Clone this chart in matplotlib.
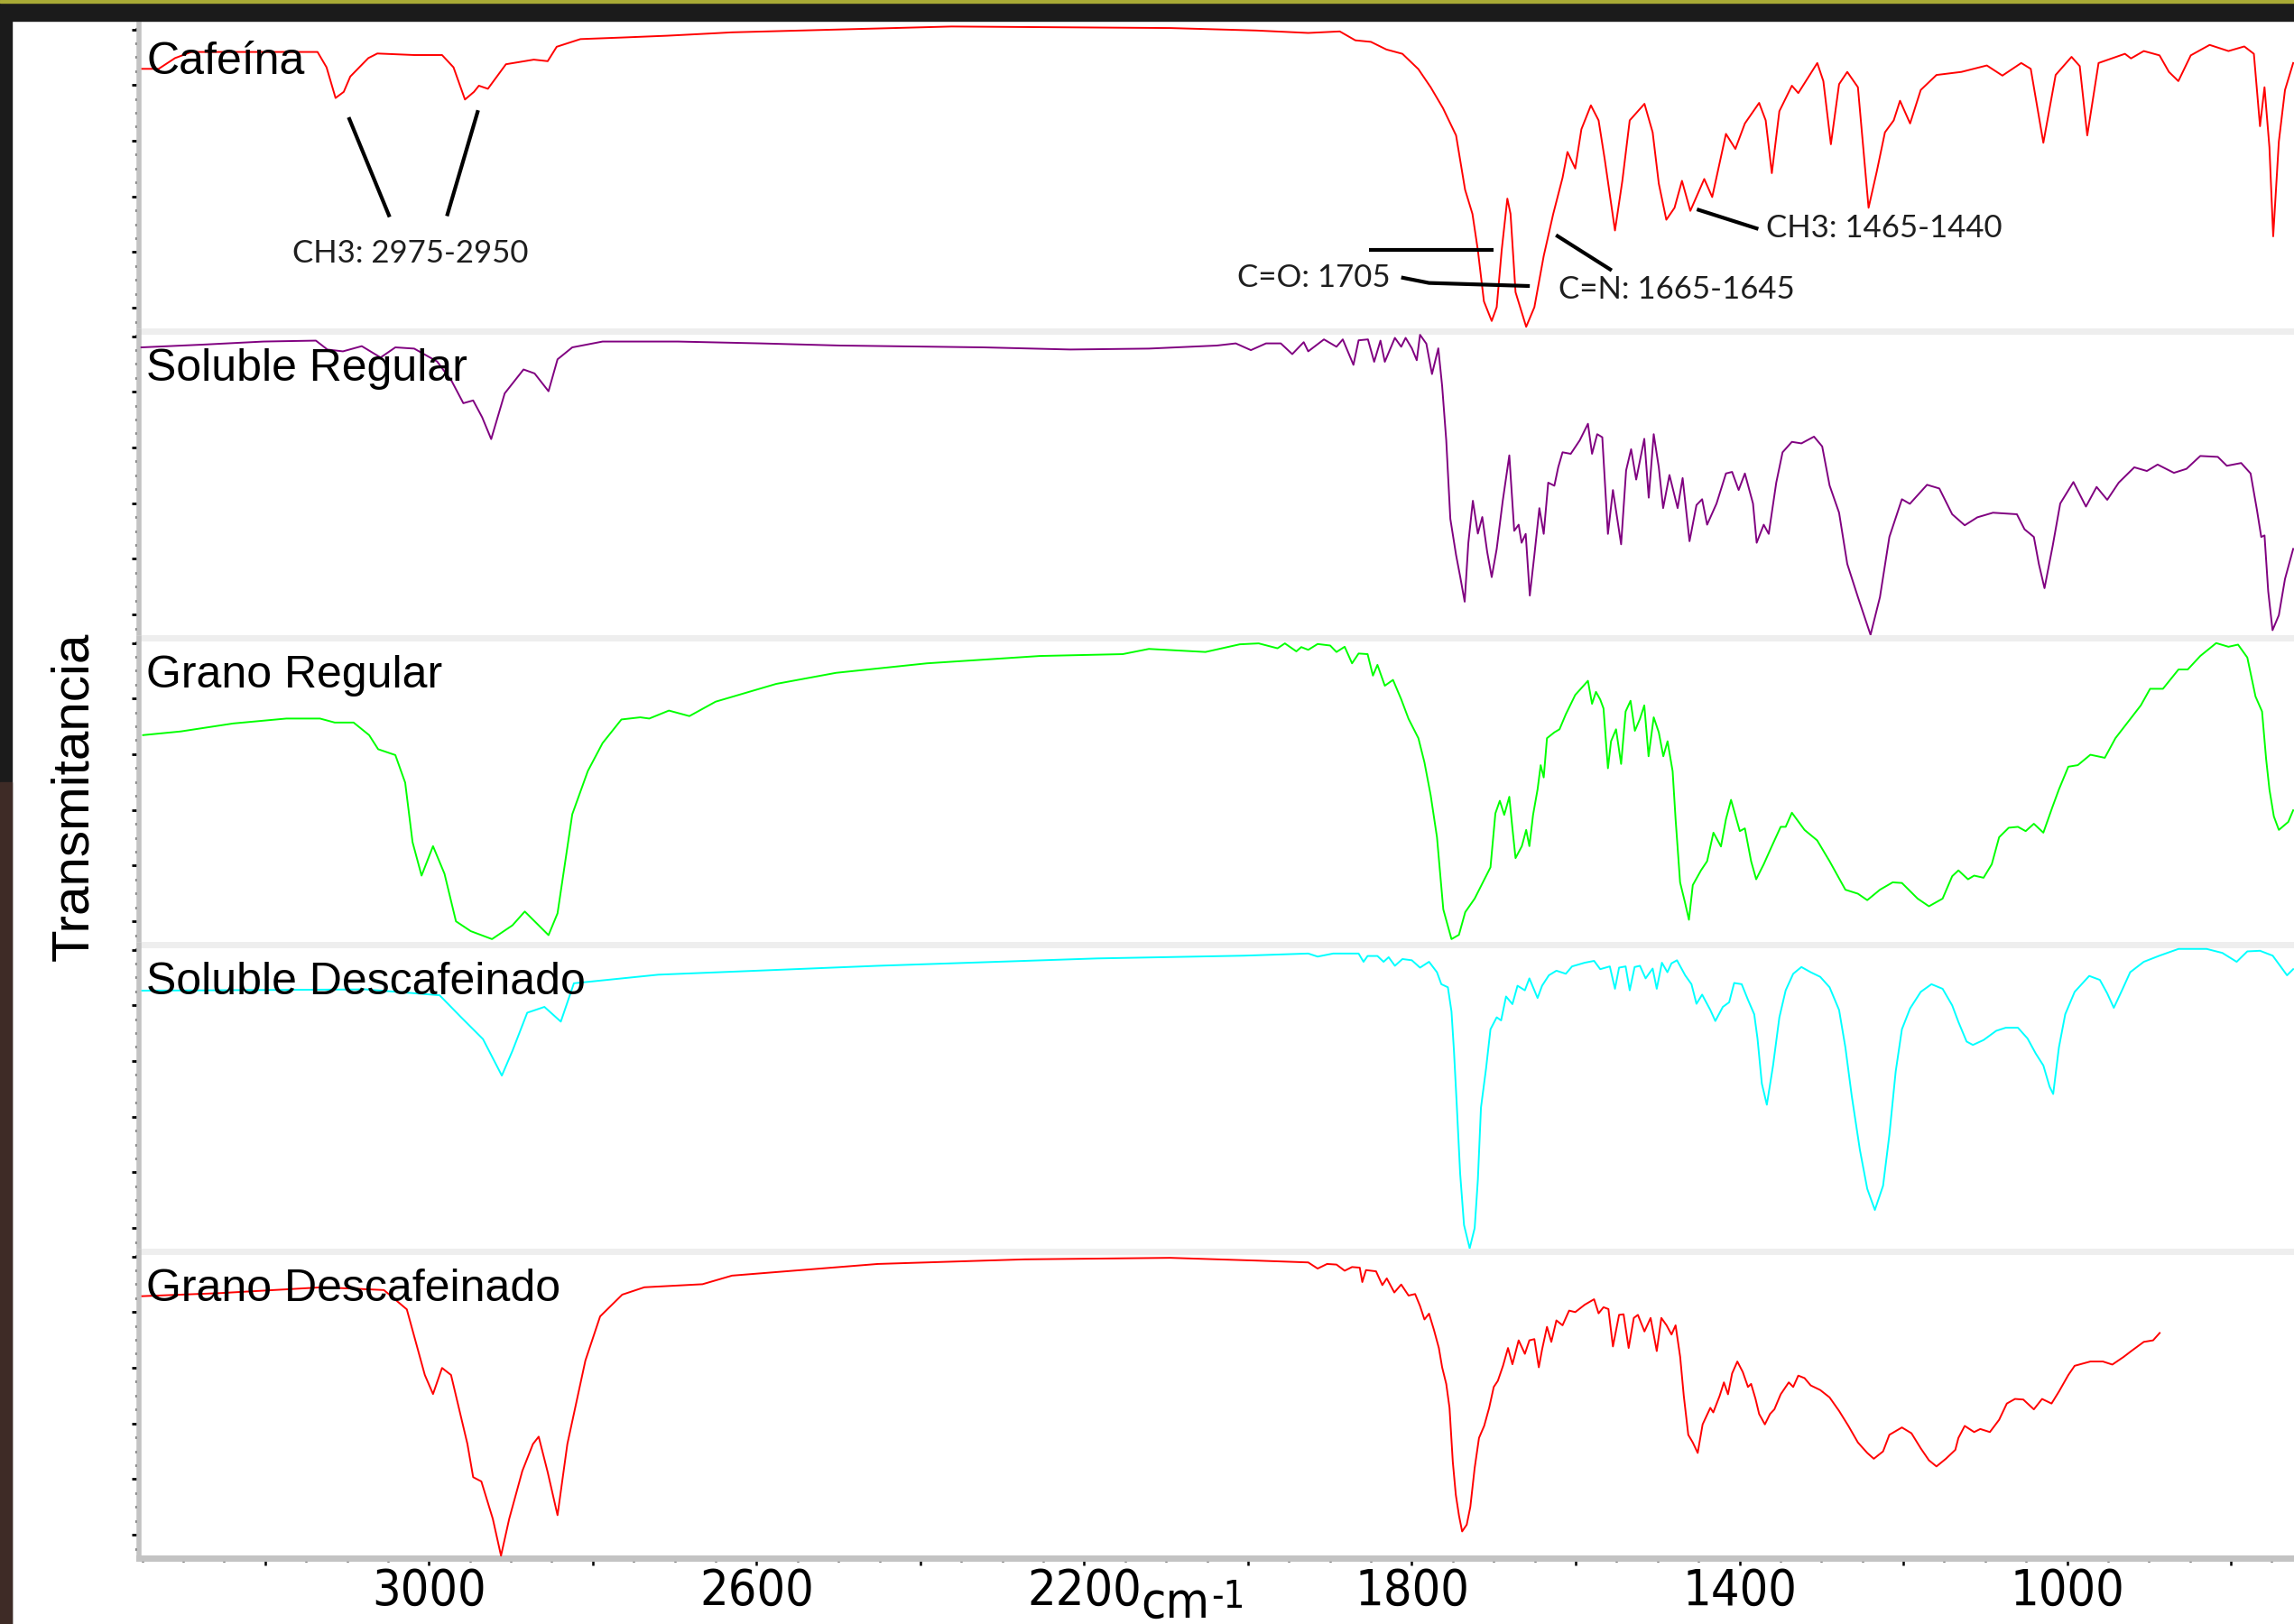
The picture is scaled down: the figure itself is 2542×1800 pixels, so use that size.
import numpy as np
import matplotlib
matplotlib.use("Agg")
import matplotlib.pyplot as plt
from matplotlib import font_manager as fm
from matplotlib.patches import Rectangle
from matplotlib.ticker import FixedLocator, MultipleLocator, FuncFormatter

#   Spectra: (wavenumber cm-1, relative transmittance % of its panel)
cafeina = [
    (3350, 85.5), (3330, 85.5), (3310, 89), (3290, 91), (3136, 91), (3125, 86), (3114, 76),
    (3104, 78), (3096, 83), (3074, 89), (3063, 90.5), (3018, 90), (2984, 90), (2970, 86),
    (2956, 75.5), (2945, 78), (2939, 80), (2928, 79), (2906, 87), (2872, 88.5), (2855, 88),
    (2844, 92.7), (2815, 95.2), (2765, 95.7), (2709, 96.3), (2658, 97), (2630, 97.4),
    (2362, 99.3), (2095, 98.8), (1990, 98), (1926.5, 97.2), (1888, 97.7), (1869, 94.8),
    (1850, 94.3), (1831, 91.8), (1811.5, 90.4), (1792, 85.4), (1777, 79.5), (1762, 72.7),
    (1746, 63.8), (1735, 46.1), (1726, 38.2), (1719.4, 26.4), (1712, 9.7), (1702.5, 3.3),
    (1696.4, 7.8), (1690.3, 26.4), (1683.4, 43.2), (1679.5, 38.2), (1673.4, 12.7),
    (1660.4, 1.4), (1650.4, 7.8), (1639, 24.5), (1627.4, 38.2), (1616, 50), (1610, 58.4),
    (1600.5, 53), (1593, 65.8), (1581.4, 73.6), (1572, 68.7), (1564.5, 56), (1552, 32.8),
    (1543, 49), (1534, 68.7), (1516, 74.1), (1506, 64.8), (1498.5, 48.1), (1489.3, 36.3),
    (1479.3, 40.2), (1470.2, 49), (1460, 39.2), (1443, 49.6), (1433.3, 43.7), (1416.5, 64.3),
    (1405, 59.4), (1393.4, 67.7), (1376, 74.4), (1368, 68.7), (1360.5, 51.5), (1351.3, 71.7),
    (1336, 80), (1328.2, 77.6), (1305, 87.4), (1297.6, 81.5), (1288.4, 60.9), (1278.4, 80.5),
    (1268.4, 84.5), (1255.4, 79.5), (1242.4, 40.2), (1232.4, 52), (1222.4, 64.8),
    (1211.7, 68.7), (1204, 75.1), (1191.7, 67.7), (1178.7, 78.6), (1159.5, 83.5),
    (1129, 84.5), (1098, 86.6), (1079, 83.3), (1056, 87.4), (1044.4, 85.5), (1029, 61.4),
    (1014, 83.5), (994.6, 89.4), (984.6, 86.4), (975.4, 63.8), (961.6, 87.4), (929.4, 90.4),
    (922, 88.9), (906.4, 91.3), (887.2, 89.9), (875.7, 84.5), (864.2, 81.5), (849, 89.9),
    (826, 93.3), (803, 91.3), (783.7, 92.8), (772, 90.4), (764.5, 66.8), (759, 79.5),
    (753, 59.9), (748.4, 30.9), (741.5, 61.8), (734, 78.6), (724, 87.4),
]

soluble_regular = [
    (3351, 94.7), (3276, 95.6), (3202, 96.6), (3138, 96.9), (3124, 94), (3105, 93.4),
    (3082, 95.1), (3059, 91.4), (3041, 94.7), (3018, 94.3), (2990, 90.1), (2972, 83.6),
    (2958, 76.5), (2946, 77.4), (2935, 71.9), (2924, 64.8), (2907.5, 79.7), (2884.5, 87.5),
    (2871, 86.2), (2854, 80.4), (2843, 90.8), (2825, 94.7), (2788, 96.6), (2696, 96.6),
    (2595, 96), (2498, 95.3), (2323, 94.7), (2217, 94), (2121, 94.3), (2038, 95.3),
    (2015, 96), (1996.5, 93.8), (1978, 96), (1960, 96), (1946, 92.5), (1932, 96.4),
    (1926.5, 93.4), (1907.3, 97.3), (1892, 94.9), (1884.3, 97.3), (1871.3, 89), (1865, 97),
    (1853.6, 97.3), (1846, 90), (1838.3, 96.9), (1833, 90), (1820.7, 97.8), (1813, 94.9),
    (1807.6, 97.8), (1800, 94.4), (1794, 90.5), (1790, 98.8), (1782.3, 95.9), (1775.4, 86),
    (1767.7, 94.4), (1763, 82.1), (1758, 64.4), (1753, 38.8), (1746, 27), (1741, 20),
    (1735.5, 11.8), (1731, 31), (1725.5, 44.7), (1719.4, 34), (1714, 39.4), (1708, 28),
    (1702.5, 19.8), (1696.4, 29), (1689, 44.7), (1681, 59.5), (1675, 34.9), (1669.6, 36.9),
    (1666, 31), (1661, 33.9), (1656, 13.8), (1650.4, 27), (1644.3, 42.3), (1639, 33.9),
    (1633.5, 50.6), (1626, 49.6), (1621.3, 55.6), (1616, 60.5), (1606, 60), (1595, 64.4),
    (1585, 69.8), (1580, 60), (1573.7, 66.4), (1567.5, 65.4), (1560.6, 33.9), (1554.5, 48.2),
    (1544.5, 30.5), (1538.4, 54.6), (1532.3, 61.5), (1526.1, 51.6), (1516.2, 64.9),
    (1510.8, 45.7), (1504.7, 66.4), (1498.5, 55.6), (1493.2, 42.3), (1485.5, 53.1),
    (1475.5, 42.3), (1469.4, 52.1), (1461, 31.5), (1452.5, 43.3), (1445.6, 45.2),
    (1439.5, 36.9), (1428, 43.8), (1416.5, 53.6), (1409, 54.1), (1401, 48.2), (1393.4, 53.6),
    (1383.5, 43.8), (1379, 31), (1370.4, 36.9), (1364.3, 33.9), (1355.1, 50.6),
    (1347.4, 60.5), (1336, 63.9), (1324.4, 63.4), (1309, 65.6), (1299, 62.4), (1290, 49.7),
    (1278.4, 40.8), (1268.4, 24.1), (1255.4, 13.3), (1240, 1), (1228.5, 13.3), (1217, 32.9),
    (1201.7, 45.2), (1192, 43.7), (1171, 49.9), (1156, 48.7), (1140.3, 40.3), (1125, 36.7),
    (1109.6, 39.3), (1090.5, 40.8), (1061.3, 40.3), (1052, 35.4), (1040.6, 32.9),
    (1034.5, 24.1), (1027.6, 16.2), (1017.6, 30), (1008.4, 43.8), (992.3, 50.8), (977, 42.8),
    (964, 49.2), (951, 45), (937, 50.6), (918, 55.6), (902.6, 54.4), (889.5, 56.5),
    (869.6, 53.8), (854.3, 55.1), (837.4, 59.3), (816, 59), (805, 56.1), (787.5, 57),
    (776, 53.6), (768.3, 41.8), (763, 32.9), (759, 33.4), (754.5, 15.2), (749.2, 2.5),
    (741.5, 7.4), (734, 19.2), (724, 29),
]

grano_regular = [
    (3349, 68.3), (3303, 69.5), (3239, 72.1), (3174, 73.7), (3133, 73.7), (3115, 72.4),
    (3092, 72.4), (3073, 68.3), (3062, 63.7), (3041, 61.8), (3029, 52.8), (3020, 33.4),
    (3009, 22.5), (2995, 32.1), (2981, 23.1), (2967, 7.6), (2949, 4.4), (2923, 1.8),
    (2898, 6.3), (2883, 10.8), (2871, 7.6), (2854, 3.1), (2843, 10.2), (2825, 42.5),
    (2806, 56.6), (2788, 65.7), (2765, 73.4), (2742, 74.1), (2731, 73.7), (2707, 76.3),
    (2682, 74.5), (2650, 79.2), (2576, 85), (2503, 88.6), (2392, 91.7), (2254, 94.1),
    (2153, 94.7), (2121, 96.4), (2052, 95.4), (2010, 97.9), (1987, 98.2), (1964, 96.6),
    (1955, 98.2), (1941, 95.6), (1935, 97), (1926.5, 96.1), (1915, 98), (1899.7, 97.5),
    (1892, 95.4), (1882, 97.1), (1873, 91.7), (1865, 94.9), (1854, 94.7), (1847.5, 87.7),
    (1842, 91.2), (1833, 84.4), (1823, 86.3), (1813, 80), (1804, 73.6), (1792, 67.3),
    (1784.6, 59.4), (1777, 48.7), (1769.3, 35), (1761.6, 11.5), (1751.6, 1.8),
    (1742.5, 3.2), (1734.8, 10.6), (1723.3, 15), (1713.3, 20.3), (1704, 25.2), (1698, 42.8),
    (1692.6, 46.9), (1687.2, 42.3), (1681, 48.2), (1677.2, 37.9), (1673.4, 28.2),
    (1665.7, 32.1), (1660.4, 37.4), (1656.5, 32.1), (1652, 42.3), (1646.5, 50.6),
    (1642.7, 58.5), (1639, 54.5), (1635, 67.3), (1626, 69.2), (1619.7, 70.2), (1612, 75.1),
    (1600.5, 81.4), (1585, 86), (1580, 78.5), (1575.2, 82.4), (1570, 79.9), (1566, 77),
    (1560.6, 57.5), (1556.8, 66.3), (1550.7, 70.2), (1544.5, 58.9), (1539, 76),
    (1533, 79.5), (1527.7, 69.7), (1521.5, 73.6), (1516.2, 78), (1511, 61.4),
    (1504.7, 74.1), (1498.5, 69.2), (1493, 61.4), (1487.8, 66.3), (1481.6, 56.5),
    (1478, 40.9), (1472.5, 20.3), (1466.3, 13.5), (1461.7, 8.1), (1457, 19.4), (1447, 24.2),
    (1439.5, 27.2), (1431.8, 36.5), (1422.6, 32), (1416.5, 40.9), (1410.3, 47.2),
    (1399.6, 37), (1393.4, 37.9), (1385.8, 27.2), (1379.6, 21.3), (1370.4, 26.2),
    (1360.5, 32.1), (1349.7, 38.4), (1343.6, 38.4), (1336, 43), (1320.6, 37.4),
    (1305.2, 34), (1290, 27.2), (1270.7, 17.9), (1255.4, 16.6), (1244, 14.5),
    (1228.5, 17.9), (1213, 20.3), (1201.7, 20.1), (1182.5, 15), (1168.7, 12.5), (1152, 15),
    (1140.3, 22.3), (1132.7, 24.2), (1121, 21.3), (1113.5, 22.5), (1102, 21.8),
    (1092, 26.2), (1083, 35), (1071.3, 38.1), (1060, 38.4), (1050.6, 37), (1040.6, 39.4),
    (1029, 36.5), (1018, 44.8), (1010, 50.6), (998.5, 58), (987, 58.5), (971.6, 61.9),
    (954, 60.9), (941, 67.3), (925.6, 72.6), (910, 78), (898.7, 83.4), (883, 83.4),
    (864, 89.7), (852.7, 89.7), (837.4, 94.1), (818, 98.3), (803, 97.1), (791.3, 97.8),
    (780, 93.6), (770, 80.9), (762, 76), (757, 60.4), (753, 50.6), (747.6, 41.8),
    (741.5, 37.4), (730, 40), (724, 43.8),
]

soluble_descafeinado = [
    (3350, 85), (3077, 85.4), (2987, 83.5), (2961, 76.4), (2934, 69.2), (2911, 57.3),
    (2898, 65.4), (2880, 77.8), (2859, 79.7), (2839, 74.9), (2823, 87.4), (2720, 90.2),
    (2452, 93.1), (2184, 95.5), (2005, 96.4), (1940, 97), (1926.5, 97.1), (1915, 96.1),
    (1896, 97.1), (1865, 97.1), (1859, 94.4), (1854, 96.3), (1842, 96.3), (1834.5, 94.4),
    (1828.3, 95.9), (1820.7, 93.1), (1811.5, 95.3), (1800, 94.9), (1790, 92.5),
    (1779, 94.4), (1769.3, 91), (1764, 87.1), (1756, 86.1), (1751.6, 78.2), (1748.6, 65.5),
    (1745, 46.9), (1741, 25.3), (1736.3, 8.6), (1729.4, 1), (1723.3, 7.6), (1719.4, 23.3),
    (1715.6, 46.9), (1709.4, 59.6), (1704, 72.4), (1696.4, 76.3), (1691, 75.3),
    (1685, 83.1), (1677.2, 80.6), (1671, 86.6), (1662, 85.1), (1656.5, 89), (1646.5, 82.6),
    (1641, 86.6), (1632.7, 90), (1623.5, 91.5), (1612, 90.5), (1604.4, 92.9), (1589, 94.1),
    (1577.5, 94.7), (1570, 92), (1558.3, 92.9), (1552, 85.6), (1547, 92.5), (1539, 92.9),
    (1534, 85.1), (1528, 92.7), (1521.5, 93.1), (1514.6, 89), (1506, 92.2), (1501, 85.6),
    (1494.7, 94.1), (1488, 91), (1483, 93.9), (1476.3, 94.9), (1466.3, 90), (1458.6, 87.1),
    (1452.5, 80.7), (1445.6, 83.7), (1435.6, 78.7), (1429.5, 75.1), (1420.3, 79.7),
    (1412.6, 81.2), (1406.5, 87.5), (1397.3, 87.1), (1389.6, 82), (1382, 77.3),
    (1378, 69.4), (1372.7, 54.7), (1366.6, 47.8), (1359, 60.6), (1351.3, 76.3),
    (1343.6, 85.1), (1334.4, 90.5), (1324.4, 92.7), (1313, 91), (1301.4, 89.5),
    (1290, 86.1), (1278.4, 78.7), (1270.7, 66.5), (1263, 50.8), (1253, 33.1), (1244, 20.4),
    (1234.7, 13.5), (1224.7, 21.4), (1217, 38), (1209.3, 58.6), (1201.7, 72.4),
    (1191.7, 79.2), (1178.7, 84.6), (1165.6, 87.1), (1152, 85.6), (1140.3, 80.2),
    (1132.7, 74.8), (1122.7, 68.4), (1115, 67.3), (1102, 68.9), (1086.6, 71.9), (1075, 72.9),
    (1060, 72.9), (1048.3, 69.4), (1038.3, 64.5), (1029, 60.6), (1021.4, 53.7),
    (1017, 51.3), (1010, 66.5), (1002.3, 77.3), (990.8, 84.6), (973, 89.8), (960, 88.5),
    (951, 84.1), (943, 79.4), (933, 85.1), (923, 91), (906.4, 94.4), (887.2, 96.4),
    (864, 98.6), (829.7, 98.6), (810.5, 97.3), (793, 94.4), (780, 97.8), (764.5, 98),
    (749, 96.4), (731.5, 90), (724, 92),
]

grano_descafeinado = [
    (3350, 85.4), (3255, 86.4), (3130, 88.3), (3055, 87.4), (3027, 81.1), (3005, 59.7),
    (2995, 53.5), (2984, 62), (2973, 59.7), (2953, 37.2), (2946, 26.4), (2936, 25),
    (2922, 12.8), (2912, 0.8), (2902, 12.8), (2886, 28.4), (2873, 37.2), (2866, 39.6),
    (2855, 28), (2843, 14), (2831, 37.2), (2809, 64.4), (2791, 78.8), (2764, 85.9),
    (2737, 88.3), (2666, 89.3), (2630, 92.1), (2452, 95.9), (2273, 97.4), (2095, 97.9),
    (1990, 97), (1926.5, 96.4), (1915, 94.4), (1903.5, 95.9), (1892, 95.7), (1882, 93.7),
    (1873, 94.9), (1863.6, 94.7), (1860.5, 90), (1856, 93.9), (1843.7, 93.5), (1836, 89),
    (1830.6, 91.2), (1821.4, 86.6), (1813, 89.2), (1804, 85.6), (1796, 86.1), (1790, 82.2),
    (1784.6, 77.8), (1779, 79.7), (1773, 74.4), (1767, 68.5), (1763, 62.2), (1758, 56.8),
    (1754, 49), (1750, 31.4), (1746.3, 20.6), (1742.4, 13.8), (1738.6, 8.7), (1733, 10.9),
    (1728.6, 16.7), (1723.3, 29.4), (1718, 39.2), (1711.7, 43.1), (1705.6, 49),
    (1700, 55.8), (1695, 57.8), (1688.7, 62.7), (1682.6, 68.5), (1677.2, 63.2),
    (1669.6, 71), (1662, 66.6), (1656.5, 71), (1650.4, 71.4), (1645, 62.2), (1641, 68),
    (1635, 75.4), (1629.7, 70.5), (1623.5, 77.5), (1616, 75.9), (1608, 80.7), (1600.5, 80.2),
    (1589, 82.6), (1577.5, 84.4), (1572, 79.8), (1566, 81.8), (1560, 81.2), (1554.5, 69),
    (1547, 79.3), (1541.5, 79.5), (1535.3, 68.5), (1529, 78.3), (1524, 79.3), (1516, 73.9),
    (1508.5, 78.3), (1501, 67.5), (1495.4, 78.3), (1489, 75.9), (1483, 72.9), (1478, 75.9),
    (1472.4, 65.6), (1468, 52.9), (1462.5, 40.2), (1457, 37.7), (1451, 34.3), (1445, 43.6),
    (1435.6, 49), (1432, 47.5), (1424.2, 52.9), (1419, 57.3), (1414, 53.4), (1409, 60.2),
    (1402.6, 64.1), (1396, 60.7), (1389.6, 55.8), (1385.8, 56.8), (1380.4, 51.9),
    (1376, 47), (1369, 43.6), (1362.7, 47), (1357.4, 48.5), (1349.7, 53.4), (1339.8, 57.3),
    (1334.4, 55.8), (1328.2, 59.5), (1320.6, 58.7), (1313, 56.3), (1301.4, 54.8),
    (1290, 52.4), (1278.4, 48), (1267, 43.1), (1255.4, 37.7), (1244, 34.3), (1236, 32.4),
    (1224.7, 34.8), (1217, 40.2), (1201.7, 42.6), (1190, 40.7), (1178.7, 35.8),
    (1168.7, 31.9), (1159.5, 29.9), (1148, 32.4), (1136.5, 35.3), (1132.7, 39.2),
    (1125, 43.1), (1113.5, 41.1), (1106, 42.1), (1094.3, 41.1), (1083, 45.1), (1073.6, 50.4),
    (1063.6, 51.9), (1053.5, 51.7), (1040.6, 48.5), (1030.6, 51.9), (1019, 50.4),
    (1010, 54.3), (998.5, 59.7), (990.8, 62.7), (971.6, 64.1), (956.3, 64.1), (944.8, 63.1),
    (931, 65.6), (921.7, 67.5), (906.4, 70.5), (895, 71), (887, 73.4),
]

panel_names = ["Cafeína", "Soluble Regular", "Grano Regular", "Soluble Descafeinado", "Grano Descafeinado"]
panel_colors = ["#ff0000", "#800080", "#00ff00", "#00ffff", "#ff0000"]
spectra = [cafeina, soluble_regular, grano_regular, soluble_descafeinado, grano_descafeinado]

x_major = list(range(3200, 700, -200))
x_tick_labels = {3000: "3000", 2600: "2600", 2200: "2200", 1800: "1800", 1400: "1400", 1000: "1000"}

#   Fonts
names = {f.name for f in fm.fontManager.ttflist}
NARROW = "Liberation Sans Narrow" if "Liberation Sans Narrow" in names else "DejaVu Sans"
narrow_stretch = "normal" if NARROW == "Liberation Sans Narrow" else "condensed"
TICK_SIZE = 45 if NARROW == "Liberation Sans Narrow" else 40
SANS = "Liberation Sans" if "Liberation Sans" in names else "DejaVu Sans"
NOTE = "Lato" if "Lato" in names else "DejaVu Sans"

#   Layout (pixels of a 2542 x 1800 canvas)
W, H = 2542, 1800
LEFT = 154
TOP = 27
PANEL_H = 340
X_LEFT, X_RIGHT = 3354, 723

fig = plt.figure(figsize=(W / 100, H / 100), dpi=100)
fig.patch.set_facecolor("white")

axes = []
for i in range(5):
    bottom_px = TOP + PANEL_H * (i + 1)
    ax = fig.add_axes([LEFT / W, 1 - bottom_px / H, 1 - LEFT / W, PANEL_H / H])
    ax.set_facecolor("none")
    wn, tr = np.array(spectra[i]).T
    ax.plot(wn, tr / 100.0, color=panel_colors[i], lw=1.4, zorder=3)
    ax.set_xlim(X_LEFT, X_RIGHT)
    ax.set_ylim(0, 1)
    for s in ["top", "right"]:
        ax.spines[s].set_visible(False)
    ax.spines["left"].set_color("#c3c3c3")
    ax.spines["left"].set_linewidth(4)
    # y ticks
    majors = np.arange(0.076, 1.0, 0.1815)
    minors = np.arange(0.076 - 3 * 0.0454, 1.0, 0.0454)
    minors = minors[(minors > 0) & (minors < 1)]
    ax.yaxis.set_major_locator(FixedLocator(majors))
    ax.yaxis.set_minor_locator(FixedLocator(minors))
    ax.tick_params(axis="y", which="major", length=6, width=2, color="black", direction="out", labelleft=False)
    ax.tick_params(axis="y", which="minor", length=3, width=2, color="black", direction="out")
    # separator to the panel above
    if i > 0:
        ax.axhline(1.0, color="#eeeeee", lw=5, zorder=1, clip_on=False)
    ax.text(0.0034, 0.838, panel_names[i], transform=ax.transAxes, fontsize=36,
            family=SANS, color="black", va="baseline", ha="left", zorder=5)
    if i < 4:
        ax.spines["bottom"].set_visible(False)
        ax.tick_params(axis="x", which="both", bottom=False, labelbottom=False)
    axes.append(ax)

#   Bottom axis
axb = axes[-1]
axb.spines["bottom"].set_color("#c3c3c3")
axb.spines["bottom"].set_linewidth(5)
axb.xaxis.set_major_locator(FixedLocator(x_major))
axb.xaxis.set_minor_locator(MultipleLocator(50))
axb.xaxis.set_major_formatter(FuncFormatter(lambda v, p: x_tick_labels.get(int(round(v)), "")))
axb.tick_params(axis="x", which="major", length=6, width=1.8, color="black", direction="out", pad=1)
axb.tick_params(axis="x", which="minor", length=3, width=1.8, color="black", direction="out")
for lab in axb.get_xticklabels():
    lab.set_fontfamily(NARROW)
    lab.set_fontstretch(narrow_stretch)
    lab.set_fontsize(TICK_SIZE)

#   Annotations on the caffeine panel
ax0 = axes[0]
note_lines = [
    ([3098, 3048], [0.697, 0.372]),
    ([2940, 2978], [0.72, 0.375]),
    ([1852, 1700], [0.266, 0.266]),
    ([1813, 1779, 1656], [0.175, 0.157, 0.147]),
    ([1624, 1556], [0.313, 0.198]),
    ([1452, 1377], [0.397, 0.333]),
]
for xs, ys in note_lines:
    ax0.plot(xs, ys, color="black", lw=3, solid_capstyle="butt", zorder=4)
note_kw = dict(fontsize=25, family=NOTE, color="#1e1e1e", va="center", zorder=5)
ax0.text(3023, 0.253, "CH3: 2975-2950", ha="center", **note_kw)
ax0.text(1920, 0.175, "C=O: 1705", ha="center", **note_kw)
ax0.text(1621, 0.136, "C=N: 1665-1645", ha="left", **note_kw)
ax0.text(1368, 0.335, "CH3: 1465-1440", ha="left", **note_kw)

#   Axis titles
fig.text(82 / W, 1 - 883 / H, "Transmitancia", rotation=90, fontsize=42, family=SANS,
         ha="center", va="center")
fig.text(1264 / W, 1 - 1793 / H, "cm", fontsize=TICK_SIZE, family=NARROW, fontstretch=narrow_stretch,
         ha="left", va="baseline")
fig.text(1342 / W, 1 - 1782 / H, "-1", fontsize=30, family=NARROW, fontstretch=narrow_stretch,
         ha="left", va="baseline")

#   Screenshot frame
fig.patches.append(Rectangle((0, 1 - 23 / H), 1, 23 / H, transform=fig.transFigure,
                             color="#1b1b1b", zorder=10))
fig.patches.append(Rectangle((0, 1 - 3 / H), 1, 3 / H, transform=fig.transFigure,
                             color="#a9aa35", zorder=11))
fig.patches.append(Rectangle((0, 0), 13 / W, 1, transform=fig.transFigure,
                             color="#1b1b1b", zorder=10))
fig.patches.append(Rectangle((0, 0), 13 / W, 1 - 867 / H, transform=fig.transFigure,
                             color="#3e2b26", zorder=11))

fig.savefig("out.png", dpi=100)
